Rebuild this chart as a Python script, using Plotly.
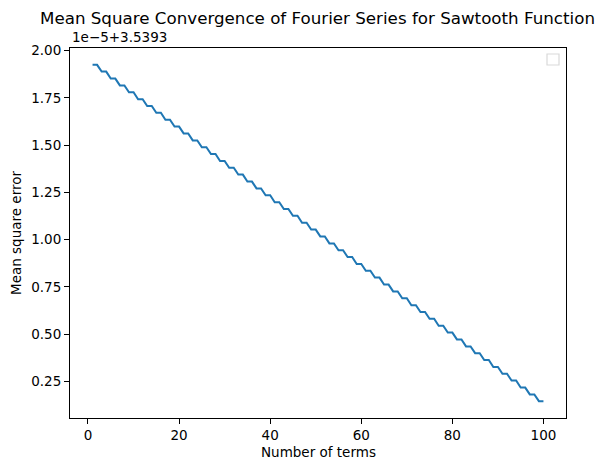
import plotly.graph_objects as go

# Data (values in units of 1e-5, offset by 3.5393)
n_terms = list(range(1, 101))
mse_scaled = [1.925, 1.925, 1.889, 1.889, 1.852, 1.852, 1.816, 1.816, 1.780, 1.780,
              1.743, 1.743, 1.707, 1.707, 1.671, 1.671, 1.634, 1.634, 1.598, 1.598,
              1.562, 1.562, 1.525, 1.525, 1.489, 1.489, 1.453, 1.453, 1.416, 1.416,
              1.380, 1.380, 1.344, 1.344, 1.307, 1.307, 1.271, 1.271, 1.235, 1.235,
              1.198, 1.198, 1.162, 1.162, 1.126, 1.126, 1.089, 1.089, 1.053, 1.053,
              1.017, 1.017, 0.980, 0.980, 0.944, 0.944, 0.908, 0.908, 0.871, 0.871,
              0.835, 0.835, 0.799, 0.799, 0.762, 0.762, 0.726, 0.726, 0.690, 0.690,
              0.653, 0.653, 0.617, 0.617, 0.581, 0.581, 0.544, 0.544, 0.508, 0.508,
              0.472, 0.472, 0.435, 0.435, 0.399, 0.399, 0.363, 0.363, 0.326, 0.326,
              0.290, 0.290, 0.254, 0.254, 0.217, 0.217, 0.181, 0.181, 0.145, 0.145]
x_ticks = [0, 20, 40, 60, 80, 100]
y_ticks = [0.25, 0.50, 0.75, 1.00, 1.25, 1.50, 1.75, 2.00]
y_tick_labels = ["0.25", "0.50", "0.75", "1.00", "1.25", "1.50", "1.75", "2.00"]
offset_text = "1e\u22125+3.5393"
title_text = "Mean Square Convergence of Fourier Series for Sawtooth Function"

FONT = "DejaVu Sans"

W, H = 603, 470
L, R, T, B = 70, 566, 48, 417.6
pw, ph = R - L, B - T

def px(x):
    return (x - L) / pw

def py(y):
    return (B - y) / ph

fig = go.Figure()
fig.add_trace(go.Scatter(x=n_terms, y=mse_scaled, mode="lines",
                         line=dict(color="#1f77b4", width=2), showlegend=False))

dmin, dmax = min(mse_scaled), max(mse_scaled)
pad = (dmax - dmin) * 0.05

axis_common = dict(showgrid=False, zeroline=False, showline=True, linecolor="black",
                   linewidth=1.1, mirror=True, ticks="outside", ticklen=5, tickwidth=1.1,
                   tickcolor="black", tickfont=dict(family=FONT, size=13.5, color="black"))

fig.update_layout(
    width=W, height=H,
    margin=dict(l=L, r=W - R, t=T, b=H - B),
    paper_bgcolor="white", plot_bgcolor="white",
    font=dict(family=FONT, color="black"),
    xaxis=dict(range=[1 - 99 * 0.05, 100 + 99 * 0.05], tickvals=x_ticks, **axis_common),
    yaxis=dict(range=[dmin - pad, dmax + pad], tickvals=y_ticks, ticktext=y_tick_labels,
               **axis_common),
    showlegend=False,
)

fig.add_annotation(text=title_text, x=px(317.5), y=py(18), xref="paper", yref="paper",
                   showarrow=False, xanchor="center", yanchor="middle",
                   font=dict(family=FONT, size=16.7, color="black"))
fig.add_annotation(text=offset_text, x=px(70), y=py(37.5), xref="paper", yref="paper",
                   showarrow=False, xanchor="left", yanchor="middle",
                   font=dict(family=FONT, size=13.5, color="black"))
fig.add_annotation(text="Number of terms", x=0.5, y=py(452), xref="paper", yref="paper",
                   showarrow=False, xanchor="center", yanchor="middle",
                   font=dict(family=FONT, size=13.5, color="black"))
fig.add_annotation(text="Mean square error", x=px(16), y=0.5, xref="paper", yref="paper",
                   showarrow=False, xanchor="center", yanchor="middle", textangle=-90,
                   font=dict(family=FONT, size=13.5, color="black"))

# empty legend frame
x0, x1, y0, y1 = px(547), px(559), py(65), py(54)
fig.add_shape(type="rect", xref="paper", yref="paper", x0=x0, x1=x1, y0=y0, y1=y1,
              line=dict(color="#d9d9d9", width=1.2), fillcolor="rgba(255,255,255,0.8)")

fig.write_html("out.html", config={"displayModeBar": False},
               post_script="document.body.style.margin='0';")
